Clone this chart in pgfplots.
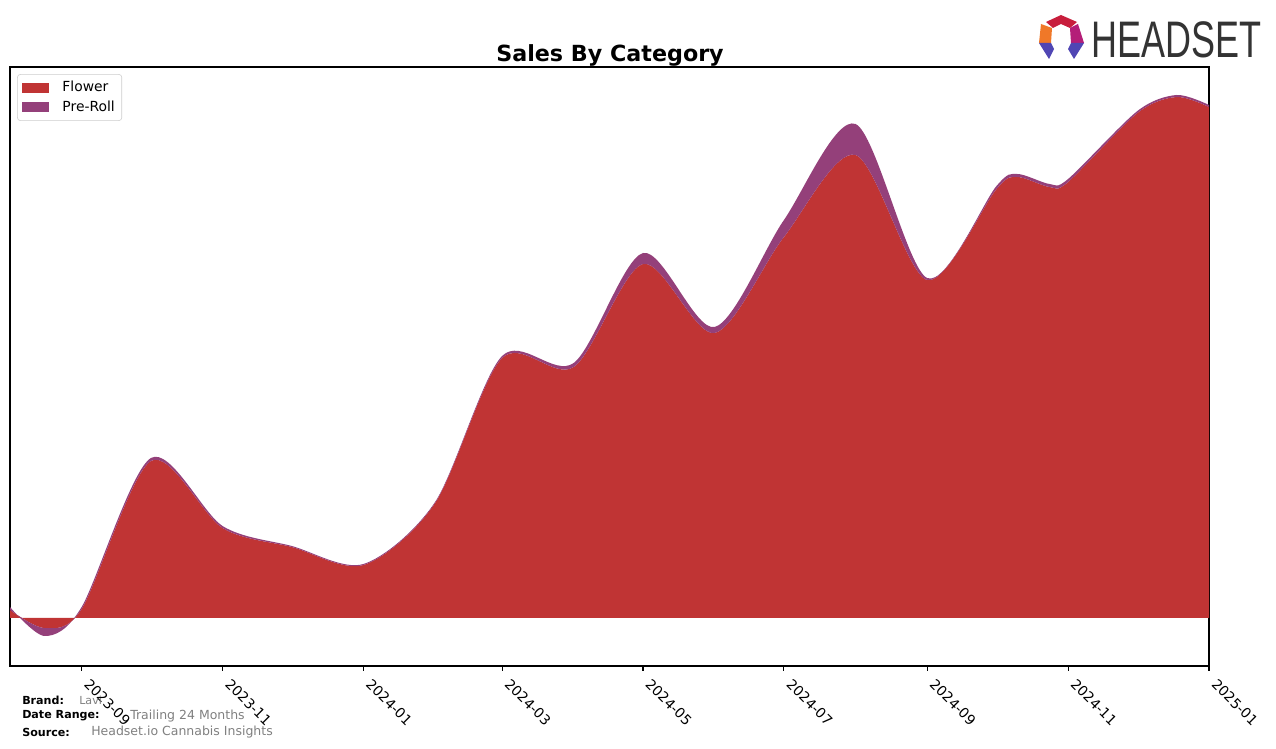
\documentclass[border=0pt]{standalone}
\usepackage{pgfplots}
\pgfplotsset{compat=1.18}
\usepgfplotslibrary{fillbetween}
\usepackage{pgfplotstable}
\usepackage{fontspec}
\setmainfont{DejaVu Sans}
\newfontfamily\logofont{Liberation Sans}

\definecolor{flower}{RGB}{192,52,52}
\definecolor{preroll}{RGB}{148,64,122}
\definecolor{footgray}{RGB}{128,128,128}
\definecolor{logogray}{RGB}{51,51,51}
\definecolor{legframe}{RGB}{204,204,204}

% day = days since 2023-08-01
\pgfplotstableread{
day flower preroll
0 8 3
15 -10 -8
31 9 2
61 157 3
92 90 2
122 71 1
153 53 1
184 115 1
213 260 2
244 251 4
274 354 11
305 285 6
335 381 17
366 463 31
397 338 2
427 429 3
436 441 3
450 431 3
458 436 3
488 505 2
505 521 2
519 511 2
}\sales

\begin{document}
\begin{tikzpicture}[x=0.72pt,y=0.72pt]
\begin{axis}[
  at={(7.2pt,59.04pt)}, anchor=south west,
  scale only axis,
  width=863.28pt, height=431.28pt,
  xmin=0, xmax=519, ymin=-48, ymax=551,
  xtick={31,92,153,213,274,335,397,458,519},
  xticklabels={2023-09,2023-11,2024-01,2024-03,2024-05,2024-07,2024-09,2024-11,2025-01},
  xtick pos=lower,
  ytick=\empty,
  tick align=outside,
  major tick length=3.5pt,
  tick style={black, line width=0.8pt},
  axis line style={line width=0.8pt},
  xticklabel style={xshift=6.5pt, yshift=-3.5pt, rotate=-45, anchor=north west, inner sep=1pt, font=\fontsize{10}{12}\selectfont},
  legend style={at={(0.006,0.988)}, anchor=north west, draw=legframe, rounded corners=2pt,
    font=\fontsize{10}{12}\selectfont, row sep=1pt, column sep=8pt, inner sep=3pt},
  legend cell align=left,
  legend image code/.code={\fill[sharp corners,#1] (0pt,-3.6pt) rectangle (19.4pt,3.6pt);},
]
\addplot[smooth, draw=none, name path=F, forget plot] table[x=day, y=flower] {\sales};
\addplot[smooth, draw=none, name path=T, forget plot] table[x=day, y expr=\thisrow{flower}+\thisrow{preroll}] {\sales};
\path[name path=B] (axis cs:0,0) -- (axis cs:519,0);
\addplot[fill=flower, draw=none, forget plot] fill between[of=F and B];
\addplot[fill=preroll, draw=none, forget plot] fill between[of=T and F];
\addlegendimage{fill=flower, draw=none}
\addlegendentry{Flower}
\addlegendimage{fill=preroll, draw=none}
\addlegendentry{Pre-Roll}
\end{axis}
% title
\node[font=\fontsize{16}{19}\selectfont\bfseries] at (610,693) {Sales By Category};
% footer
\node[anchor=west, inner sep=0, font=\fontsize{8}{10}\selectfont\bfseries] at (22,48) {Brand:};
\node[anchor=west, inner sep=0, text=footgray, font=\fontsize{8}{10}\selectfont] at (79,48) {Lavi};
\node[anchor=west, inner sep=0, font=\fontsize{8}{10}\selectfont\bfseries] at (22,32) {Date Range:};
\node[anchor=west, inner sep=0, text=footgray, font=\fontsize{9}{11}\selectfont] at (130,32) {Trailing 24 Months};
\node[anchor=west, inner sep=0, font=\fontsize{8}{10}\selectfont\bfseries] at (22,16) {Source:};
\node[anchor=west, inner sep=0, text=footgray, font=\fontsize{9}{11}\selectfont] at (91,16) {Headset.io Cannabis Insights};
% logo
\node[anchor=west, inner sep=0, xscale=0.7, text=logogray, font=\logofont\fontsize{37}{40}\selectfont] at (1091,708) {HEADSET};
\fill[color={rgb,255:red,200;green,30;blue,60}] (1046,726) -- (1061,733) -- (1077,726) -- (1070,720) -- (1061,724) -- (1053,720) -- cycle;
\fill[color={rgb,255:red,240;green,120;blue,40}] (1041,724) -- (1052,720) -- (1051,705) -- (1039,705) -- cycle;
\fill[color={rgb,255:red,180;green,30;blue,120}] (1078,724) -- (1070,720) -- (1071,705) -- (1084,705) -- cycle;
\fill[color={rgb,255:red,80;green,70;blue,180}] (1039,705) -- (1051,705) -- (1054,699) -- (1049,689) -- cycle;
\fill[color={rgb,255:red,80;green,70;blue,180}] (1071,705) -- (1084,705) -- (1074,689) -- (1068,699) -- cycle;
\pgfresetboundingbox
\useasboundingbox (0,0) rectangle (1276,748);
\end{tikzpicture}
\end{document}
